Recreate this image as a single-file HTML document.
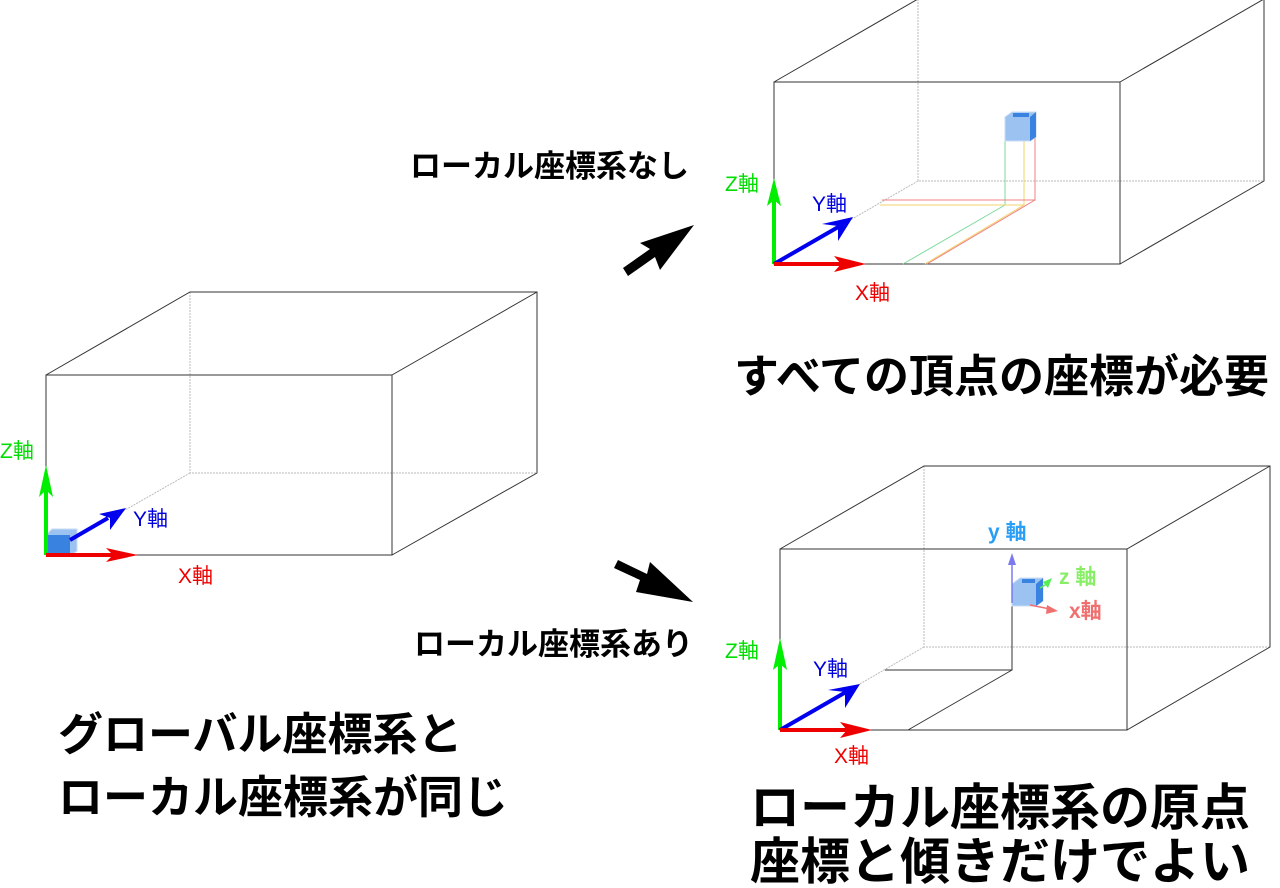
<!DOCTYPE html>
<html><head><meta charset="utf-8"><style>
html,body{margin:0;padding:0;background:#fff;}
svg{display:block;}
text{font-family:"Liberation Sans","Noto Sans CJK JP",sans-serif;}
.b{font-weight:bold;fill:#000;}
</style></head><body>
<svg width="1280" height="888" viewBox="0 0 1280 888" xmlns="http://www.w3.org/2000/svg">
<g fill="none" stroke-width="1">
<path d="M190,292 L190,473 L537,473 M190,473 L46,555" stroke="#bbb" stroke-dasharray="2,1"/>
<path d="M46,555 L46,375 L392,375 L392,555 Z M46,375 L190,292 L537,292 L537,473 L392,555 M392,375 L537,292" stroke="#333"/>
<path d="M918,-1 L918,181 L1264,181 M918,181 L774,264" stroke="#bbb" stroke-dasharray="2,1"/>
<path d="M774,264 L774,82 L1120,82 L1120,264 Z M774,82 L918,-1 M1120,82 L1264,-1 L1264,181 L1120,264" stroke="#333"/>
<path d="M924,466 L924,647 L1270,647 M924,647 L780,730" stroke="#bbb" stroke-dasharray="2,1"/>
<path d="M780,730 L780,549 L1127,549 L1127,730 Z M780,549 L924,466 L1270,466 L1270,647 L1127,730 M1127,549 L1270,466" stroke="#333"/>
<path d="M885,670 L1012,670 L1012,603 M1012,670 L908,730" stroke="#333"/>
<path d="M1005,138 L1005,205 L882,205 M1005,205 L903,264" stroke="#7ddb9b"/>
<path d="M1024,140 L1024,205 L880,205 M1024,205 L925,264" stroke="#f3d36a"/>
<path d="M1035,138 L1035,200 L882,200 M1035,200 L927,264" stroke="#f08080"/>
</g>
<g>
<path d="M1005,117 L1012,112 L1036,112 L1036,137 L1030,141 L1005,141 Z" fill="#9cc2f2" stroke="#c8dcf7"/>
<path d="M1030,117 L1036,112 L1036,137 L1030,141 Z" fill="#3a82e0"/>
<rect x="1013" y="113" width="16" height="4" fill="#3a82e0"/>
</g>
<g>
<path d="M46,535 L52,529 L77,529 L77,551 L70,556 L46,556 Z" fill="#9cc2f2" stroke="#c8dcf7"/>
<rect x="46" y="535" width="24" height="21" fill="#3a82e0"/>
</g>
<g>
<path d="M1012,584 L1020,578 L1043,578 L1043,601 L1036,606 L1012,606 Z" fill="#9cc2f2" stroke="#c8dcf7"/>
<path d="M1036,584 L1043,578 L1043,601 L1036,606 Z" fill="#3a82e0"/>
<rect x="1022" y="579" width="13" height="4" fill="#3a82e0"/>
</g>
<g stroke-width="4">
<line x1="46" y1="555" x2="46" y2="488" stroke="#00ee00"/><path d="M46,465 L53,497 L46,490 L39,497 Z" fill="#00ee00"/>
<line x1="70" y1="540" x2="108" y2="518" stroke="#0000ee"/><path d="M126,508 L110,530 L110,518 L99,514 Z" fill="#0000ee"/>
<line x1="46" y1="555" x2="120" y2="555" stroke="#ee0000"/><path d="M138,555 L106,562 L113,555 L106,548 Z" fill="#ee0000"/>
<line x1="774" y1="264" x2="774" y2="200" stroke="#00ee00"/><path d="M774,178 L781,206 L774,200 L767,206 Z" fill="#00ee00"/>
<line x1="774" y1="264" x2="840" y2="226" stroke="#0000ee"/><path d="M853,217 L838,241 L838,226 L822,224 Z" fill="#0000ee"/>
<line x1="774" y1="264" x2="850" y2="264" stroke="#ee0000"/><path d="M866,264 L834,272 L841,264 L834,256 Z" fill="#ee0000"/>
<line x1="780" y1="730" x2="780" y2="660" stroke="#00ee00"/><path d="M780,638 L787,670 L780,664 L773,670 Z" fill="#00ee00"/>
<line x1="780" y1="730" x2="846" y2="692" stroke="#0000ee"/><path d="M860,684 L845,708 L845,692 L828,690 Z" fill="#0000ee"/>
<line x1="780" y1="730" x2="856" y2="730" stroke="#ee0000"/><path d="M872,730 L840,738 L847,730 L840,722 Z" fill="#ee0000"/>
</g>
<g stroke-width="1.5">
<line x1="1012" y1="603" x2="1012" y2="560" stroke="#7a7aee"/><path d="M1012,553 L1016,565 L1008,565 Z" fill="#7a7aee"/>
<line x1="1040" y1="588" x2="1050" y2="582" stroke="#55ee55"/><path d="M1052,578 L1048,588 L1043,582 Z" fill="#55ee55"/>
<line x1="1030" y1="605" x2="1050" y2="609" stroke="#f07070"/><path d="M1058,611 L1046,614 L1047,605 Z" fill="#f07070"/>
</g>
<g font-size="21">
<text x="0" y="458" fill="#00dd00">Z軸</text>
<text x="133" y="526" fill="#0000dd">Y軸</text>
<text x="178" y="583" fill="#ee0000">X軸</text>
<text x="725" y="191" fill="#00dd00">Z軸</text>
<text x="812" y="211" fill="#0000dd">Y軸</text>
<text x="855" y="300" fill="#ee0000">X軸</text>
<text x="725" y="658" fill="#00dd00">Z軸</text>
<text x="813" y="676" fill="#0000dd">Y軸</text>
<text x="834" y="763" fill="#ee0000">X軸</text>
<text x="988" y="539" fill="#2a9df4" font-weight="bold">y 軸</text>
<text x="1059" y="584" fill="#88ee66" font-weight="bold">z 軸</text>
<text x="1069" y="618" fill="#f07070" font-weight="bold">x軸</text>
</g>
<path d="M623,268 L650,249 L640,243 L694,225 L660,270 L655,257 L628,276 Z" fill="#000"/>
<path d="M614,568 L640,580 L636,592 L693,602 L650,562 L647,574 L618,560 Z" fill="#000"/>
<text class="b" x="410" y="177" font-size="31">ローカル座標系なし</text>
<text class="b" x="414" y="655" font-size="31">ローカル座標系あり</text>
<text class="b" x="734" y="392" font-size="45">すべての頂点の座標が必要</text>
<text class="b" x="58" y="750" font-size="45">グローバル座標系と</text>
<text class="b" x="58" y="813" font-size="45">ローカル座標系が同じ</text>
<text class="b" x="750" y="825" font-size="50">ローカル座標系の原点</text>
<text class="b" x="750" y="879" font-size="50">座標と傾きだけでよい</text>
</svg>
</body></html>
